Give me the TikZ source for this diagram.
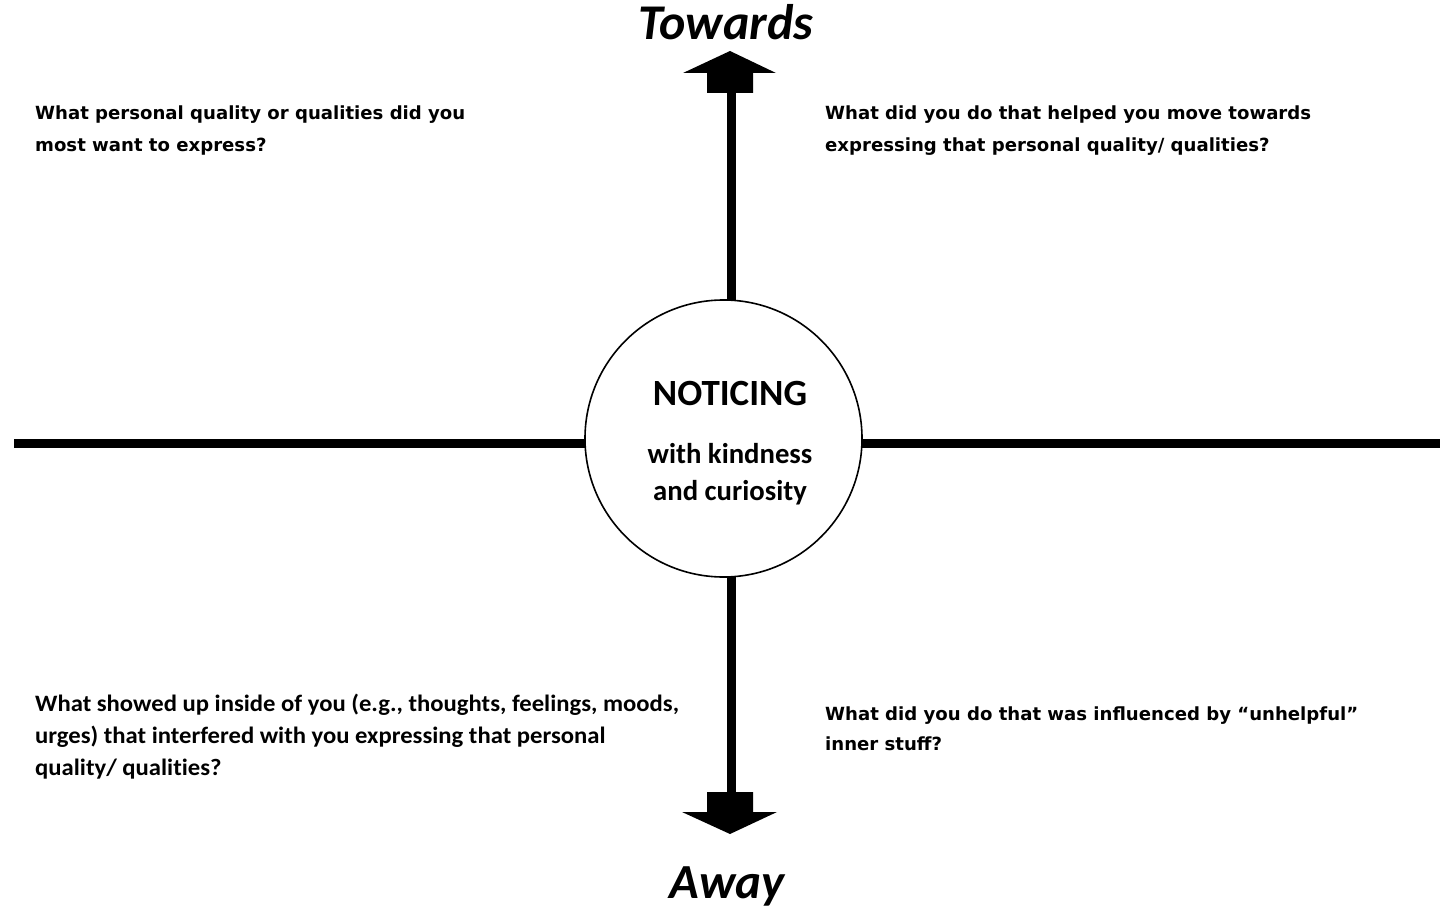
\documentclass[tikz,border=0pt]{standalone}
\usepackage{fontspec}
\setmainfont{Carlito}
\newfontfamily\wideface{DejaVu Sans}
\newfontfamily\calface{Carlito}[Ligatures=NoCommon, FakeStretch=1.05]
\begin{document}
\begin{tikzpicture}[x=1pt,y=-1pt,
  axis/.style={line width=9pt},
  tipshape/.style={fill=black},
  question/.style={anchor=base west, inner sep=0pt, align=left},
  wideq/.style={question, font=\wideface\bfseries\fontsize{18.1}{32}\selectfont},
  narrowq/.style={question, font=\calface\bfseries\fontsize{23.5}{32}\selectfont},
  pole/.style={anchor=base, inner sep=0pt, font=\bfseries\itshape\fontsize{50}{50}\selectfont},
  hubtext/.style={anchor=base, inner sep=0pt, font=\bfseries},
]
\useasboundingbox (0,0) rectangle (1440,909);

% end points of the four axis arms
\coordinate (leftend) at (14,443.5);
\coordinate (rightend) at (1440,443.5);
\coordinate (topstem) at (731,92);
\coordinate (botstem) at (731,793);

% central circle (placed first so the arms can refer to it)
\node[circle, minimum size=277pt, inner sep=0pt] (hub) at (723.5,438.5) {};

% axis arms
\draw[axis] (leftend) -- (leftend -| hub.west);
\draw[axis] (rightend -| hub.east) -- (rightend);
\draw[axis] (topstem) -- (topstem |- hub.north);
\draw[axis] (botstem |- hub.south) -- (botstem);

% circle outline on top of the arms
\draw[line width=1.6pt, fill=white] (hub.center) circle (138.5pt);

% block arrow heads
\fill[tipshape] (730,51) -- (776,73) -- (753,73) -- (753,93) -- (707,93) -- (707,73) -- (683,73) -- cycle;
\fill[tipshape] (730,834) -- (777,812) -- (753,812) -- (753,792) -- (707,792) -- (707,812) -- (682,812) -- cycle;

% pole labels
\node[pole] (towards) at (726,40) {Towards};
\node[pole, font=\bfseries\itshape\fontsize{49}{49}\selectfont] (away) at (727,898) {Away};

% text inside the circle
\node[hubtext, font=\bfseries\fontsize{37}{37}\selectfont] (noticing) at (730,405) {NOTICING};
\node[hubtext, font=\bfseries\fontsize{28.7}{28.7}\selectfont] (kind) at (730,463) {with kindness};
\node[hubtext, font=\bfseries\fontsize{28.7}{28.7}\selectfont] (curious) at (730,500) {and curiosity};

% quadrant questions (anchored on the baseline of their last line)
\node[wideq] (qtl) at (35,152) {What personal quality or qualities did you\\most want to express?};
\node[wideq] (qtr) at (825,152) {What did you do that helped you move towards\\expressing that personal quality/ qualities?};
\node[narrowq] (qbl) at (35,775) {What showed up inside of you (e.g., thoughts, feelings, moods,\\urges) that interfered with you expressing that personal\\quality/ qualities?};
\node[wideq, font=\wideface\bfseries\fontsize{18.1}{30}\selectfont] (qbr) at (825,750) {What did you do that was influenced by “unhelpful”\\inner stuff?};
\end{tikzpicture}
\end{document}
